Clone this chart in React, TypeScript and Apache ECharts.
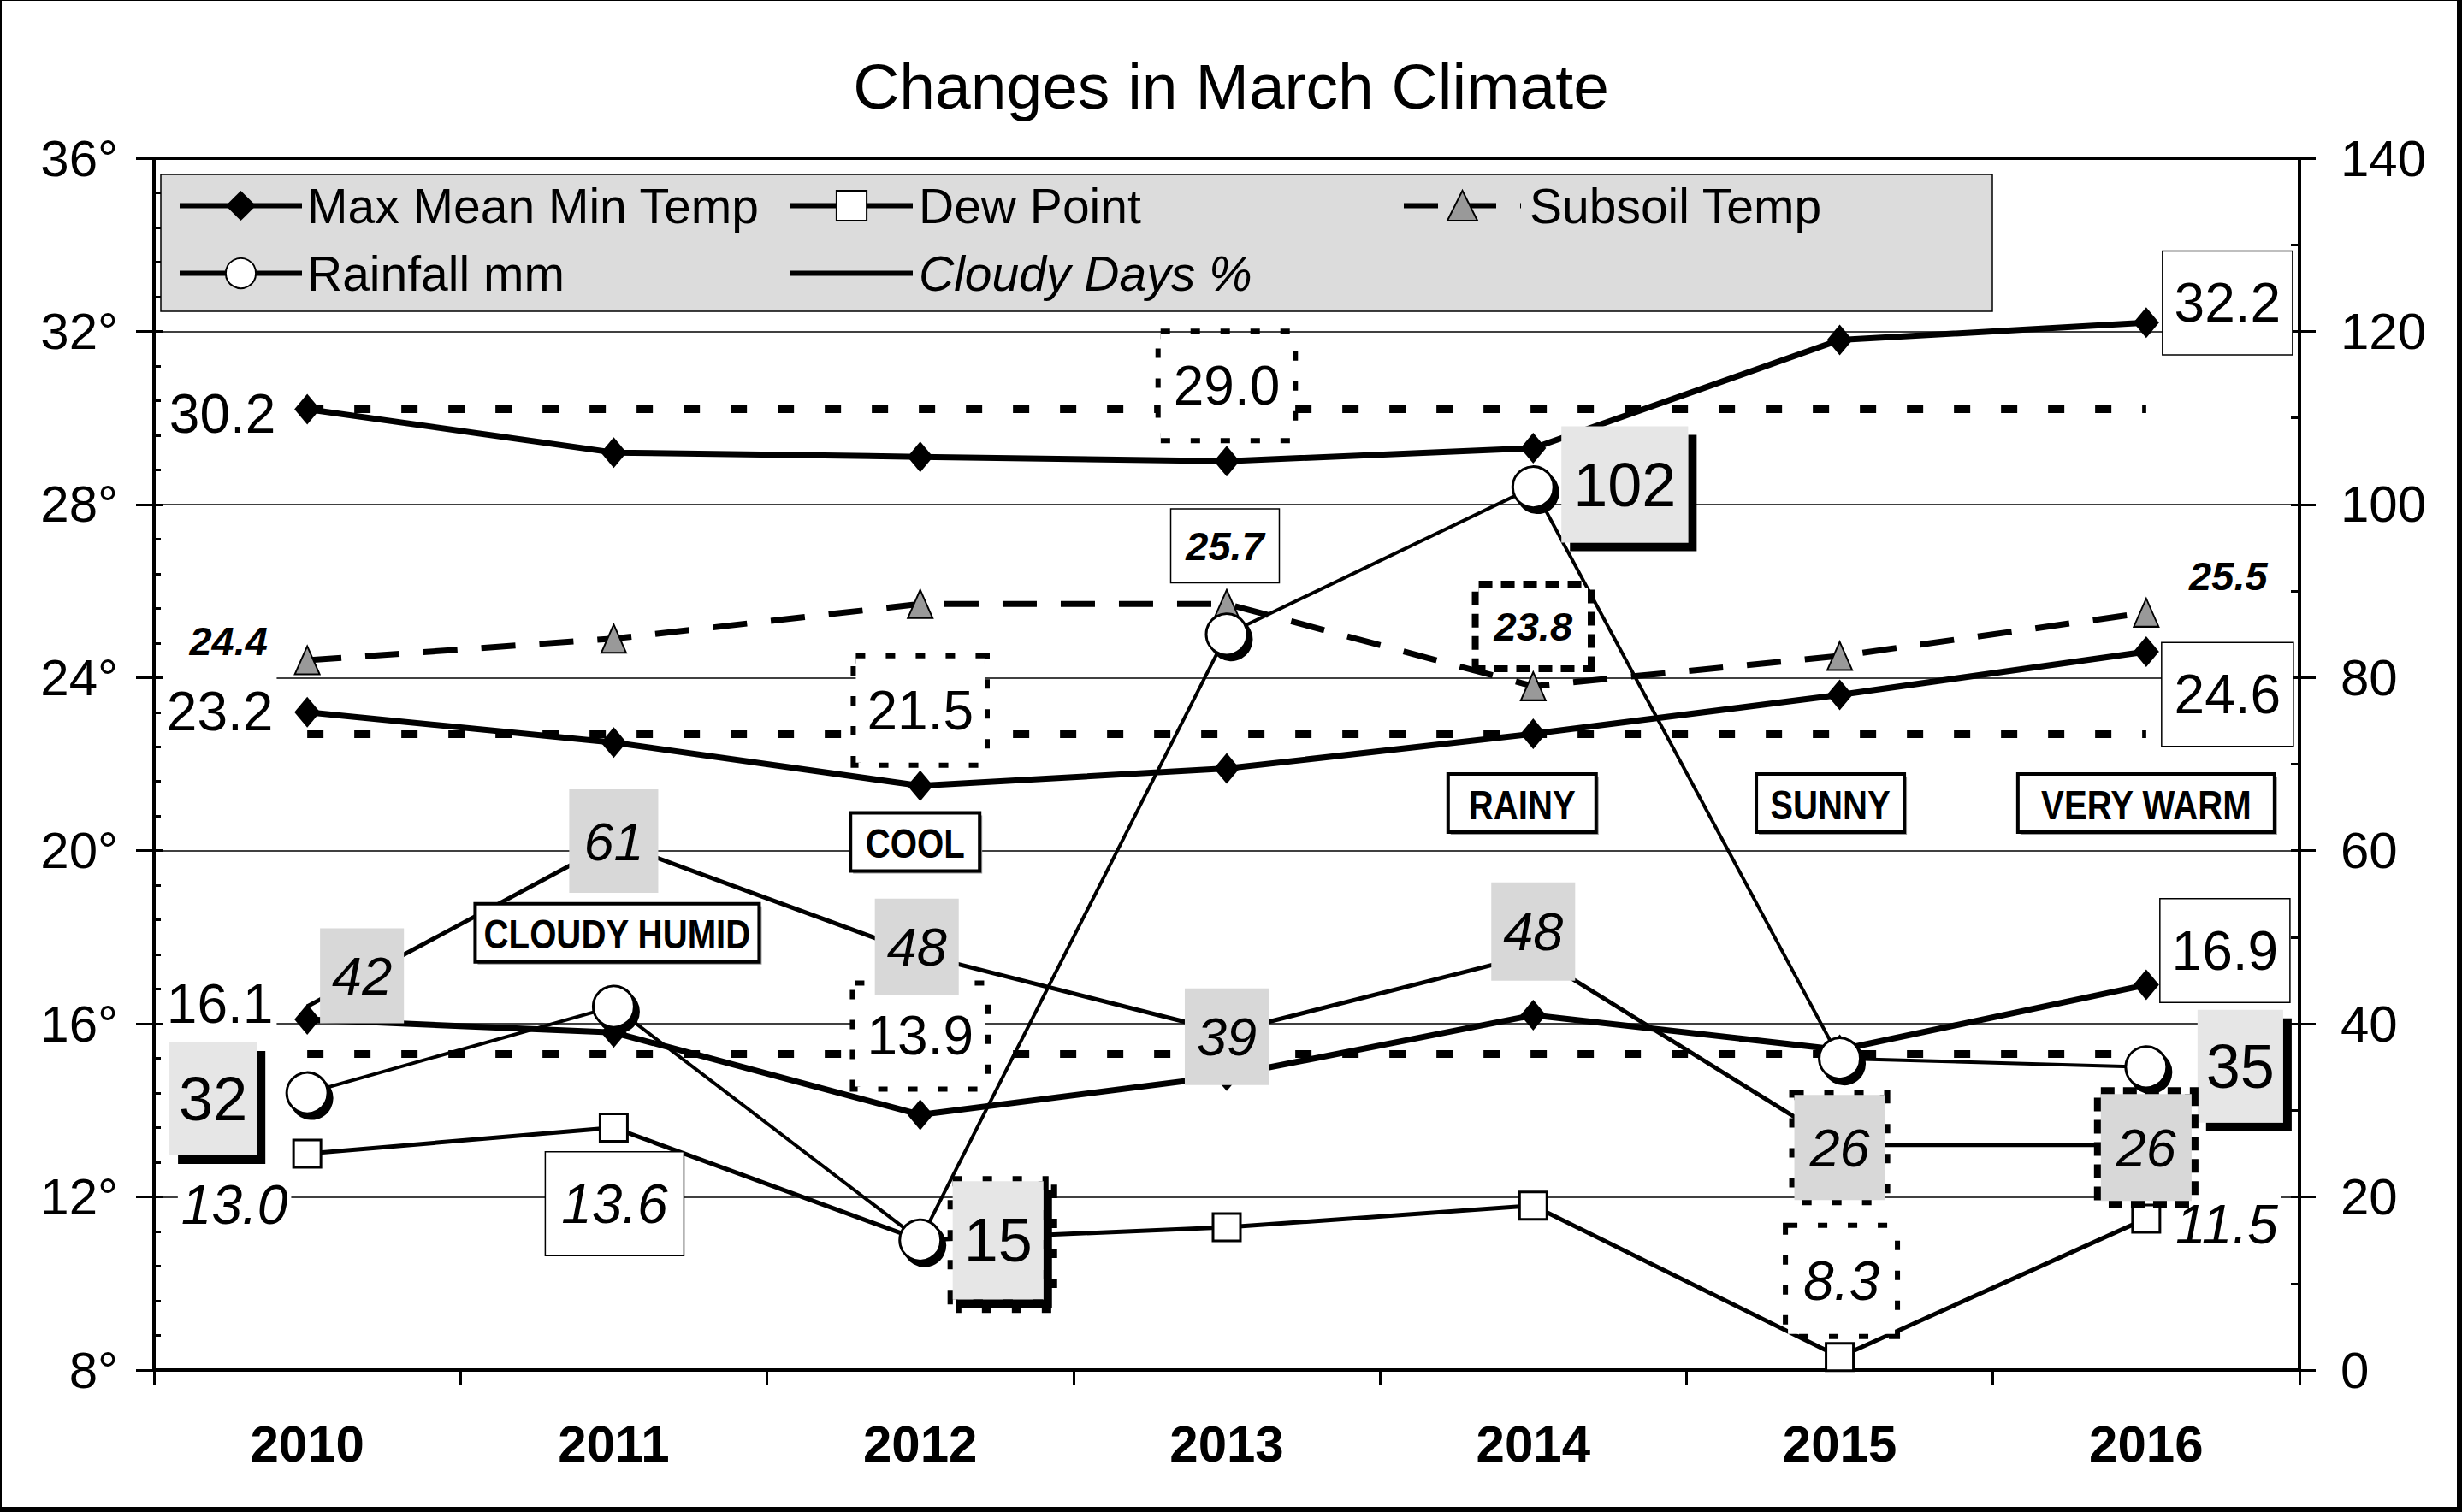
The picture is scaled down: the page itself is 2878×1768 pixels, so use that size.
import React, { useEffect, useRef } from 'react';
import * as echarts from 'echarts';

// ---------- data ----------
const years = ['2010', '2011', '2012', '2013', '2014', '2015', '2016'];
const maxTemp = [30.2, 29.2, 29.1, 29.0, 29.3, 31.8, 32.2];
const meanTemp = [23.2, 22.5, 21.5, 21.9, 22.7, 23.6, 24.6];
const minTemp = [16.1, 15.8, 13.9, 14.8, 16.2, 15.4, 16.9];
const dewPoint = [13.0, 13.6, 11.0, 11.3, 11.8, 8.3, 11.5];
const subsoilTemp = [24.4, 24.9, 25.7, 25.7, 23.8, 24.5, 25.5];
const rainfall = [32, 42, 15, 85, 102, 36, 35];
const cloudyDays = [42, 61, 48, 39, 48, 26, 26];
const referenceTemps = [30.2, 22.7, 15.3]; // dotted reference lines (max, mean, min)
const tempAxis = { min: 8, max: 36, interval: 4 };
const rainAxis = { min: 0, max: 140, interval: 20 };
const annotationTexts = ['CLOUDY HUMID', 'COOL', 'RAINY', 'SUNNY', 'VERY WARM'];
const annotationYears = ['2011', '2012', '2014', '2015', '2016'];
const annotationTemps = [18.1, 20.2, 21.1, 21.1, 21.1];

// ---------- styles ----------
const FONT = "'Liberation Sans', Arial, Helvetica, sans-serif";
const DOT = [11, 24];
const DASH2 = [16, 10];

const BOX: Record<string, any> = {
  plain: { backgroundColor: '#ffffff' },
  thin: { backgroundColor: '#ffffff', borderColor: '#000', borderWidth: 1.5 },
  dotted: { backgroundColor: '#ffffff', borderColor: '#000', borderWidth: 6, borderType: DOT },
  dashed: { backgroundColor: '#ffffff', borderColor: '#000', borderWidth: 8, borderType: DASH2 },
  hatch: { backgroundColor: '#e6e6e6', shadowColor: '#000', shadowBlur: 0, shadowOffsetX: 10, shadowOffsetY: 10 },
  hatchDotted: { backgroundColor: '#e6e6e6', shadowColor: '#000', shadowBlur: 0, shadowOffsetX: 10, shadowOffsetY: 10, borderColor: '#000', borderWidth: 6, borderType: DOT },
  shade: { backgroundColor: '#d8d8d8' },
  shadeDotted: { backgroundColor: '#d8d8d8', borderColor: '#000', borderWidth: 6, borderType: DOT },
  shadeDashed: { backgroundColor: '#d8d8d8', borderColor: '#000', borderWidth: 8, borderType: DASH2 },
};

const TXT_TEMP = { fontFamily: FONT, fontSize: 64, lineHeight: 64, color: '#000' };
const TXT_DEW = { ...TXT_TEMP, fontStyle: 'italic' };
const TXT_SOIL = { fontFamily: FONT, fontSize: 47, lineHeight: 47, fontWeight: 'bold', fontStyle: 'italic', color: '#000' };
const TXT_RAIN = { fontFamily: FONT, fontSize: 72, lineHeight: 72, color: '#000' };
const TXT_CLOUD = { fontFamily: FONT, fontSize: 63, lineHeight: 63, fontStyle: 'italic', color: '#000' };

type Spec = { i: number; dx: number; dy: number; box: string; pad: number[] };

const maxLabels: Spec[] = [
  { i: 0, dx: -99, dy: 5, box: 'plain', pad: [8, 4] },
  { i: 3, dx: 0, dy: -88, box: 'dotted', pad: [29, 15] },
  { i: 6, dx: 95, dy: -23, box: 'thin', pad: [28, 13] },
];
const meanLabels: Spec[] = [
  { i: 0, dx: -102, dy: -1, box: 'plain', pad: [12, 4] },
  { i: 2, dx: 0, dy: -88, box: 'dotted', pad: [29, 13] },
  { i: 6, dx: 95, dy: 50, box: 'thin', pad: [28, 14] },
];
const minLabels: Spec[] = [
  { i: 0, dx: -102, dy: -18, box: 'plain', pad: [12, 4] },
  { i: 2, dx: 0, dy: -92, box: 'dotted', pad: [27, 14] },
  { i: 6, dx: 92, dy: -40, box: 'thin', pad: [28, 13] },
];
const dewLabels: Spec[] = [
  { i: 0, dx: -85, dy: 60, box: 'plain', pad: [12, 4] },
  { i: 1, dx: 1, dy: 89, box: 'thin', pad: [28, 18] },
  { i: 5, dx: 2, dy: -89, box: 'dotted', pad: [30, 18] },
  { i: 6, dx: 94, dy: 7, box: 'plain', pad: [12, 4] },
];
const soilLabels: Spec[] = [
  { i: 0, dx: -92, dy: -23, box: 'plain', pad: [6, 4] },
  { i: 3, dx: -2, dy: -68, box: 'thin', pad: [19, 17] },
  { i: 4, dx: 0, dy: -70, box: 'dashed', pad: [22, 18] },
  { i: 6, dx: 96, dy: -43, box: 'plain', pad: [6, 4] },
];
const rainLabels: Spec[] = [
  { i: 0, dx: -110, dy: 7, box: 'hatch', pad: [30, 11] },
  { i: 2, dx: 91, dy: 0, box: 'hatchDotted', pad: [33, 13] },
  { i: 4, dx: 107, dy: -3, box: 'hatch', pad: [32, 14] },
  { i: 6, dx: 110, dy: -1, box: 'hatch', pad: [30, 10] },
];
const cloudLabels: Spec[] = [
  { i: 0, dx: 64, dy: -36, box: 'shade', pad: [24, 14] },
  { i: 1, dx: 0, dy: -1, box: 'shade', pad: [29, 17] },
  { i: 2, dx: -4, dy: -9, box: 'shade', pad: [25, 14] },
  { i: 3, dx: 0, dy: 5, box: 'shade', pad: [25, 14] },
  { i: 4, dx: 0, dy: -27, box: 'shade', pad: [26, 14] },
  { i: 5, dx: 0, dy: 3, box: 'shadeDotted', pad: [30, 18] },
  { i: 6, dx: 0, dy: 3, box: 'shadeDashed', pad: [31, 18] },
];
const annotDx = [4, -6, -13, -11, 0];
const annotBoxW = [332, 151, 173, 173, 300];
const ANNOT_H = 68;

const f1 = (v: number) => v.toFixed(1);
const f0 = (v: number) => String(Math.round(v));

function buildData(values: number[], specs: Spec[], txt: any, fmt: (v: number) => string) {
  return values.map((v, i) => {
    const s = specs.find((x) => x.i === i);
    if (!s) return v;
    return {
      value: v,
      label: {
        show: true,
        position: 'inside',
        offset: [s.dx, s.dy],
        formatter: fmt(v),
        ...txt,
        ...BOX[s.box],
        padding: s.pad,
      },
    };
  });
}

function refLine(v: number) {
  return {
    silent: true,
    z: 1,
    symbol: ['none', 'none'],
    label: { show: false },
    lineStyle: { color: '#000', width: 9, type: [19, 36], cap: 'butt' },
    emphasis: { disabled: true },
    data: [[{ coord: [years[0], v] }, { coord: [years[years.length - 1], v] }]],
  };
}

const diamondSeries = (data: any, ref: number) => ({
  type: 'line',
  name: 'Max Mean Min Temp',
  yAxisIndex: 0,
  data,
  symbol: 'diamond',
  symbolSize: [30, 36],
  lineStyle: { color: '#000', width: 7 },
  itemStyle: { color: '#000', borderWidth: 0 },
  label: { show: false },
  emphasis: { disabled: true },
  markLine: refLine(ref),
});

const axisText = { fontFamily: FONT, fontSize: 60, color: '#000' };
const blackLine = (w: number) => ({ color: '#000', width: w });
const legendText = (padLeft: number) => ({ fontFamily: FONT, fontSize: 57, color: '#000', padding: [0, 0, 0, padLeft] });
const legendBase = { top: 207, orient: 'vertical', itemHeight: 44, itemGap: 22, selectedMode: false, lineStyle: { width: 6 } };

export default function App() {
  const ref = useRef<HTMLDivElement>(null);
  useEffect(() => {
    if (!ref.current) return;
    const chart = echarts.init(ref.current, null, { renderer: 'svg' });
    const option: any = {
      animation: false,
      backgroundColor: '#ffffff',
      title: {
        text: 'Changes in March Climate',
        left: 'center',
        top: 58,
        textStyle: { fontFamily: FONT, fontSize: 75, fontWeight: 'normal', color: '#000' },
      },
      graphic: {
        elements: [
          { type: 'rect', z: -10, silent: true, shape: { x: 0, y: 0, width: 2878, height: 1768 }, style: { fill: '#000' } },
          { type: 'rect', z: -9, silent: true, shape: { x: 2, y: 1, width: 2870, height: 1761 }, style: { fill: '#fff' } },
          { type: 'rect', z: -8, silent: true, shape: { x: 188, y: 204, width: 2141, height: 160 }, style: { fill: '#dcdcdc', stroke: '#000', lineWidth: 1.5 } },
        ],
      },
      legend: [
        {
          ...legendBase, left: 202, itemWidth: 143,
          data: [{ name: 'Max Mean Min Temp' }, { name: 'Rainfall mm' }],
          textStyle: legendText(1),
        },
        {
          ...legendBase, left: 916, itemWidth: 143,
          data: [{ name: 'Dew Point' }, { name: 'Cloudy Days %', textStyle: { fontStyle: 'italic' } }],
          textStyle: legendText(2),
        },
        {
          ...legendBase, left: 1633, itemWidth: 137,
          data: [{ name: 'Subsoil Temp' }],
          textStyle: legendText(5),
        },
      ],
      grid: { left: 180, right: 190, top: 185, bottom: 166, containLabel: false, outerBoundsMode: 'none' },
      xAxis: [
        {
          type: 'category', data: years, position: 'bottom', boundaryGap: true,
          axisLine: { show: true, onZero: false, lineStyle: blackLine(4) },
          axisTick: { show: true, interval: 0, length: 18, lineStyle: blackLine(3) },
          axisLabel: { interval: 0, margin: 56, fontWeight: 'bold', ...axisText },
          splitLine: { show: false },
        },
        {
          type: 'category', data: years, position: 'top', boundaryGap: true,
          axisLine: { show: true, onZero: false, lineStyle: blackLine(4) },
          axisTick: { show: false }, axisLabel: { show: false }, splitLine: { show: false },
        },
      ],
      yAxis: [
        {
          type: 'value', position: 'left', ...tempAxis,
          axisLine: { show: true, lineStyle: blackLine(4) },
          axisTick: { show: true, length: 21, lineStyle: blackLine(3) },
          axisLabel: { formatter: '{value}°', margin: 42, ...axisText },
          splitLine: { show: true, lineStyle: blackLine(1.5) },
        },
        {
          type: 'value', position: 'right', ...rainAxis,
          axisLine: { show: true, lineStyle: blackLine(4) },
          axisTick: { show: true, length: 19, lineStyle: blackLine(3) },
          axisLabel: { margin: 48, ...axisText },
          splitLine: { show: false },
        },
        {
          type: 'value', position: 'left', ...tempAxis,
          axisLine: { show: false },
          axisTick: { show: true, inside: true, length: 11, lineStyle: blackLine(3) },
          minorTick: { show: true, splitNumber: 5, length: 8, lineStyle: blackLine(3) },
          axisLabel: { show: false }, splitLine: { show: false }, minorSplitLine: { show: false },
        },
        {
          type: 'value', position: 'right', ...rainAxis,
          axisLine: { show: false },
          axisTick: { show: true, inside: true, length: 10, lineStyle: blackLine(3) },
          minorTick: { show: true, splitNumber: 2, length: 10, lineStyle: blackLine(3) },
          axisLabel: { show: false }, splitLine: { show: false }, minorSplitLine: { show: false },
        },
      ],
      series: [
        diamondSeries(buildData(maxTemp, maxLabels, TXT_TEMP, f1), referenceTemps[0]),
        diamondSeries(buildData(meanTemp, meanLabels, TXT_TEMP, f1), referenceTemps[1]),
        diamondSeries(buildData(minTemp, minLabels, TXT_TEMP, f1), referenceTemps[2]),
        {
          type: 'line', name: 'Dew Point', yAxisIndex: 0,
          data: buildData(dewPoint, dewLabels, TXT_DEW, f1),
          symbol: 'rect', symbolSize: 32,
          lineStyle: { color: '#000', width: 5 },
          itemStyle: { color: '#fff', borderColor: '#000', borderWidth: 3 },
          label: { show: false }, emphasis: { disabled: true },
        },
        {
          type: 'line', name: 'Subsoil Temp', yAxisIndex: 0,
          data: buildData(subsoilTemp, soilLabels, TXT_SOIL, f1),
          symbol: 'triangle', symbolSize: [29, 33],
          lineStyle: { color: '#000', width: 7, type: [40, 28] },
          itemStyle: { color: '#999999', borderColor: '#000', borderWidth: 2 },
          label: { show: false }, emphasis: { disabled: true },
        },
        {
          type: 'line', name: 'Rainfall mm', yAxisIndex: 1,
          data: buildData(rainfall, rainLabels, TXT_RAIN, f0),
          symbol: 'circle', symbolSize: 48,
          lineStyle: { color: '#000', width: 4 },
          itemStyle: { color: '#fff', borderColor: '#000', borderWidth: 3, shadowColor: '#000', shadowBlur: 0, shadowOffsetX: 5, shadowOffsetY: 6 },
          label: { show: false }, emphasis: { disabled: true },
        },
        {
          type: 'line', name: 'Cloudy Days %', yAxisIndex: 1,
          data: buildData(cloudyDays, cloudLabels, TXT_CLOUD, f0),
          symbol: 'circle', symbolSize: 2,
          lineStyle: { color: '#000', width: 5 },
          itemStyle: { color: 'rgba(0,0,0,0)', borderWidth: 0 },
          label: { show: false }, emphasis: { disabled: true },
        },
        {
          type: 'custom', name: 'annotations', xAxisIndex: 0, yAxisIndex: 0, z: 6, silent: true,
          encode: { x: 0, y: 1 },
          data: annotationYears.map((y, k) => [y, annotationTemps[k], k]),
          renderItem: (params: any, api: any) => {
            const k = api.value(2);
            const p = api.coord([api.value(0), api.value(1)]);
            const w = annotBoxW[k];
            const h = ANNOT_H;
            return {
              type: 'group',
              x: p[0] + annotDx[k],
              y: p[1],
              children: [
                { type: 'rect', shape: { x: -w / 2 + 3, y: -h / 2 + 3, width: w, height: h }, style: { fill: '#9a9a9a' } },
                { type: 'rect', shape: { x: -w / 2, y: -h / 2, width: w, height: h }, style: { fill: '#fff', stroke: '#000', lineWidth: 4 } },
                {
                  type: 'text', x: 0, y: 1, scaleX: 0.82,
                  style: {
                    text: annotationTexts[k], x: 0, y: 0, align: 'center', verticalAlign: 'middle',
                    fontFamily: FONT, fontWeight: 'bold', fontSize: 49, fill: '#000',
                  },
                },
              ],
            };
          },
        },
      ],
    };
    chart.setOption(option);
    return () => chart.dispose();
  }, []);
  return (
    <div
      ref={ref}
      style={{ position: 'absolute', left: 0, top: 0, width: 2878, height: 1768, background: '#fff' }}
    />
  );
}
